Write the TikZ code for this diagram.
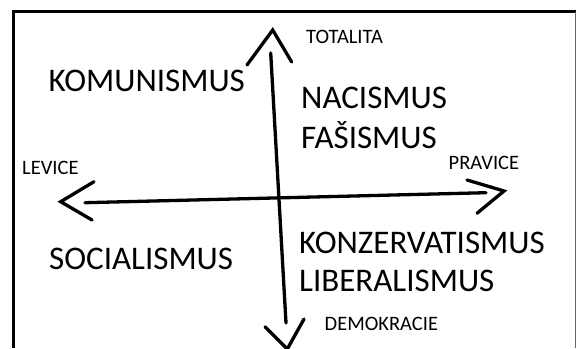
\documentclass[tikz,border=0pt]{standalone}
\usepackage{fontspec}
\setmainfont{Carlito}
\begin{document}
\begin{tikzpicture}[x=1pt,y=-1pt,
  big/.style={anchor=base west,inner sep=0pt,font=\fontsize{33}{36}\selectfont},
  small/.style={anchor=base west,inner sep=0pt,font=\fontsize{20.5}{22}\selectfont},
  axis/.style={line width=3.3pt,line cap=round,line join=miter},
  frame/.style={line width=3pt}]
\useasboundingbox (0,0) rectangle (577,348);
% frame
\draw[frame] (13,348) -- (13,11) -- (576,11);
\draw[line width=1.2pt,black!60] (575.5,12) -- (575.5,348);
% axis end points
\coordinate (vtop) at (270.7,53);
\coordinate (vbot) at (286,323);
\coordinate (vtip1) at (272.7,30);
\coordinate (vtip2) at (287.3,349);
\coordinate (hl) at (85,202.7);
\coordinate (hr) at (486,192.7);
\coordinate (htip1) at (60.7,201.7);
\coordinate (htip2) at (504,191);
\draw[axis] (vtop) -- (vbot);
\draw[axis] (hl) -- (hr);
\draw[axis] (247,65) -- (vtip1) -- (291.7,62);
\draw[axis] (265,326.7) -- (vtip2) -- (304,319);
\draw[axis] (94,181.7) -- (htip1) -- (92,220);
\draw[axis] (467,180) -- (htip2) -- (477,213.3);
% labels
\node[small] (tot) at (306,43.3) {TOTALITA};
\node[small] (lev) at (22,174) {LEVICE};
\node[small] (prav) at (448.5,169) {PRAVICE};
\node[small] (dem) at (324.5,330) {DEMOKRACIE};
\node[big] (kom) at (48.5,91) {KOMUNISMUS};
\node[big] (nac) at (301,108.3) {NACISMUS};
\node[big] (fas) at (301,148.3) {FAŠISMUS};
\node[big] (soc) at (49,269.7) {SOCIALISMUS};
\node[big] (kon) at (299,253.3) {KONZERVATISMUS};
\node[big] (lib) at (299,291.7) {LIBERALISMUS};
\end{tikzpicture}
\end{document}
